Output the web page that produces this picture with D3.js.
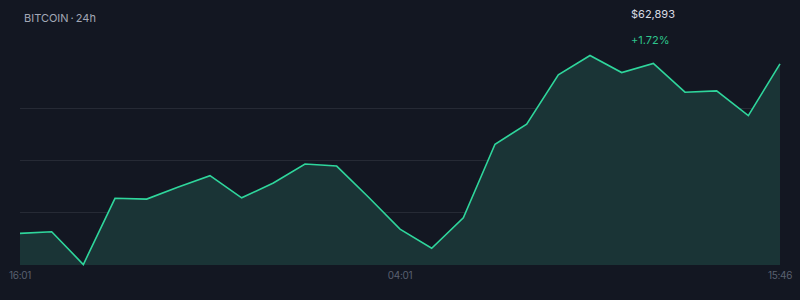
<html>
<script src="https://d3js.org/d3.v7.min.js"></script>
<style>
    body { margin: 0; background: #131722; }
    text { font-family: Inter, "Liberation Sans", sans-serif; }
</style>
<body>
<svg id="chart" width=800 height=300></svg>
<script>
// BTC price, hourly-ish samples over 24h
var prices = [61830, 61840, 61635, 62050, 62045, 62121, 62192, 62053, 62146, 62265,
              62252, 62058, 61857, 61737, 61928, 62389, 62514, 62824, 62945, 62838,
              62895, 62715, 62723, 62568, 62893];
var tickIdx = [0, 12, 24];
var tickLabels = ["16:01", "04:01", "15:46"];
var title = "BITCOIN\u2009·\u200924h";
var lastPrice = "$62,893";
var change = "+1.72%";

var svg = d3.select("#chart");
svg.append("rect").attr("width", 800).attr("height", 300).attr("fill", "#131722");

var x = d3.scaleLinear().domain([0, prices.length - 1]).range([20, 780]);
var y = d3.scaleLinear().domain(d3.extent(prices)).range([264.5, 55.5]);

// grid lines at quarters
var ext = d3.extent(prices);
var grid = [1, 2, 3].map(function(k) { return ext[0] + k * (ext[1] - ext[0]) / 4; });
svg.selectAll(".grid").data(grid).enter().append("line")
    .attr("x1", 20).attr("x2", 780)
    .attr("y1", function(d) { return Math.round(y(d)) + 0.5; })
    .attr("y2", function(d) { return Math.round(y(d)) + 0.5; })
    .attr("stroke", "#262a35").attr("stroke-width", 1);

var area = d3.area()
    .x(function(d, i) { return x(i); })
    .y0(265)
    .y1(function(d) { return y(d); });
var line = d3.line()
    .x(function(d, i) { return x(i); })
    .y(function(d) { return y(d); });

svg.append("path").datum(prices).attr("d", area).attr("fill", "#1a3436");
svg.append("path").datum(prices).attr("d", line)
    .attr("fill", "none").attr("stroke", "#2fd69c").attr("stroke-width", 1.6)
    .attr("stroke-linejoin", "miter");

// time labels
svg.selectAll(".tick").data(tickIdx).enter().append("text")
    .attr("x", function(d) { return x(d); })
    .attr("y", 279)
    .attr("text-anchor", "middle")
    .style("font-size", "10px")
    .style("letter-spacing", "-0.3px")
    .attr("fill", "#596070")
    .text(function(d, i) { return tickLabels[i]; });

svg.append("text").attr("x", 24).attr("y", 22)
    .style("font-size", "11px").attr("fill", "#a3a8b6").text(title);
svg.append("text").attr("x", 631).attr("y", 18)
    .style("font-size", "11px").attr("fill", "#d8dbe3").text(lastPrice);
svg.append("text").attr("x", 631).attr("y", 44)
    .style("font-size", "11px").attr("fill", "#2ec48c").text(change);
</script>
</body>
</html>
